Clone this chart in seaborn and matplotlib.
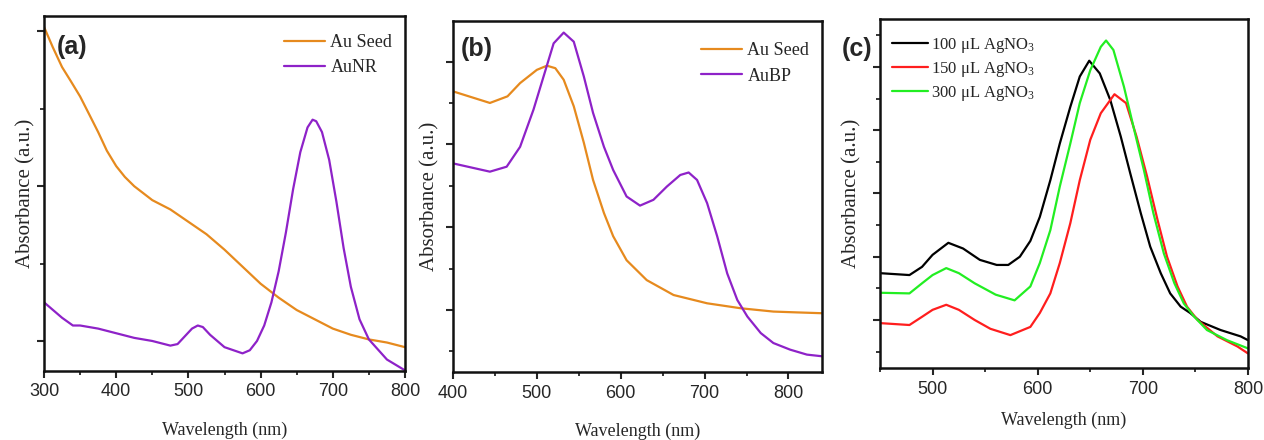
import numpy as np
import pandas as pd
import seaborn as sns
import matplotlib
matplotlib.use("Agg")
import matplotlib.pyplot as plt
from matplotlib.ticker import MultipleLocator

# ---------------- data (arbitrary absorbance units) ----------------
# Panel (a)
a_seed_wl = [300, 312, 325, 337, 350, 362, 375, 387, 400, 412, 425, 450, 475, 500, 525, 550, 575, 600, 625, 650, 675, 700, 725, 750, 775, 800]
a_seed_abs = [2.03, 1.90, 1.77, 1.68, 1.58, 1.47, 1.35, 1.23, 1.13, 1.06, 1.00, 0.91, 0.85, 0.77, 0.69, 0.59, 0.48, 0.37, 0.28, 0.20, 0.14, 0.08, 0.04, 0.01, -0.01, -0.04]
a_nr_wl = [300, 325, 340, 350, 375, 400, 425, 450, 475, 485, 495, 505, 513, 520, 530, 550, 575, 585, 595, 605, 615, 625, 635, 645, 655, 665, 672, 677, 685, 695, 705, 715, 725, 737, 750, 775, 800]
a_nr_abs = [0.25, 0.15, 0.10, 0.10, 0.08, 0.05, 0.02, 0.00, -0.03, -0.02, 0.03, 0.08, 0.10, 0.09, 0.04, -0.04, -0.08, -0.06, 0.00, 0.10, 0.25, 0.45, 0.70, 0.98, 1.22, 1.38, 1.43, 1.42, 1.35, 1.17, 0.90, 0.60, 0.35, 0.14, 0.01, -0.12, -0.19]

# Panel (b)
b_seed_wl = [400, 444, 465, 480, 500, 512, 522, 532, 544, 556, 567, 580, 591, 607, 631, 663, 703, 743, 782, 810, 840]
b_seed_abs = [2.64, 2.50, 2.58, 2.74, 2.90, 2.95, 2.92, 2.78, 2.46, 2.02, 1.57, 1.17, 0.89, 0.60, 0.36, 0.18, 0.08, 0.02, -0.02, -0.03, -0.04]
b_bp_wl = [400, 444, 464, 480, 496, 508, 520, 532, 544, 556, 567, 580, 591, 607, 623, 639, 655, 671, 681, 691, 703, 715, 727, 739, 751, 767, 782, 802, 822, 840]
b_bp_abs = [1.77, 1.67, 1.73, 1.97, 2.42, 2.82, 3.22, 3.35, 3.24, 2.82, 2.38, 1.97, 1.69, 1.37, 1.26, 1.33, 1.49, 1.63, 1.66, 1.57, 1.29, 0.89, 0.44, 0.12, -0.08, -0.28, -0.40, -0.48, -0.54, -0.56]

# Panel (c)
c100_wl = [450, 478, 490, 500, 515, 529, 545, 561, 572, 583, 593, 602, 612, 621, 631, 640, 649, 659, 669, 679, 688, 698, 707, 717, 726, 736, 745, 755, 774, 793, 800]
c100_abs = [0.74, 0.71, 0.84, 1.03, 1.22, 1.13, 0.95, 0.87, 0.87, 1.00, 1.25, 1.63, 2.21, 2.79, 3.37, 3.85, 4.10, 3.90, 3.48, 2.90, 2.32, 1.69, 1.16, 0.74, 0.42, 0.21, 0.11, -0.03, -0.16, -0.26, -0.32]
c150_wl = [450, 478, 490, 500, 513, 525, 540, 555, 574, 593, 602, 612, 621, 631, 640, 650, 660, 673, 684, 694, 704, 714, 723, 733, 742, 752, 771, 790, 800]
c150_abs = [-0.05, -0.08, 0.05, 0.16, 0.24, 0.16, 0.00, -0.14, -0.24, -0.11, 0.11, 0.42, 0.90, 1.53, 2.21, 2.85, 3.27, 3.57, 3.43, 2.90, 2.27, 1.58, 1.00, 0.53, 0.21, 0.00, -0.26, -0.42, -0.53]
c300_wl = [450, 478, 490, 500, 513, 525, 540, 560, 578, 593, 602, 612, 621, 631, 640, 650, 660, 665, 672, 682, 691, 701, 710, 720, 730, 739, 749, 761, 780, 800]
c300_abs = [0.43, 0.42, 0.58, 0.71, 0.82, 0.74, 0.58, 0.40, 0.31, 0.53, 0.90, 1.42, 2.11, 2.79, 3.43, 3.95, 4.32, 4.42, 4.27, 3.69, 3.06, 2.37, 1.69, 1.05, 0.58, 0.26, 0.05, -0.16, -0.32, -0.45]

labels_a = ["Au Seed", "AuNR"]
labels_b = ["Au Seed", "AuBP"]
labels_c = [r"100 $\mu$L AgNO$_3$", r"150 $\mu$L AgNO$_3$", r"300 $\mu$L AgNO$_3$"]

ORANGE = "#E68A1E"
PURPLE = "#8E22C8"

# ---------------- style ----------------
sns.set_style("ticks")
plt.rcParams["font.family"] = ["Liberation Sans", "DejaVu Sans"]
plt.rcParams["mathtext.fontset"] = "custom"
plt.rcParams["mathtext.rm"] = "Liberation Serif"
plt.rcParams["mathtext.it"] = "Liberation Serif:italic"
plt.rcParams["mathtext.default"] = "rm"

W, H = 1264, 440
fig = plt.figure(figsize=(W / 100, H / 100), dpi=100)


def ax_px(l, t, r, b):
    return fig.add_axes([l / W, 1 - b / H, (r - l) / W, (b - t) / H])


def frame(ax, xlim, ylim, xmaj, ymaj, ypad, xpad):
    ax.set_xlim(*xlim)
    ax.set_ylim(*ylim)
    ax.xaxis.set_major_locator(MultipleLocator(xmaj))
    ax.xaxis.set_minor_locator(MultipleLocator(xmaj / 2))
    ax.yaxis.set_major_locator(MultipleLocator(ymaj))
    ax.yaxis.set_minor_locator(MultipleLocator(ymaj / 2))
    ax.tick_params(which="major", direction="out", length=5, width=1.5, labelsize=13, pad=4)
    ax.tick_params(which="minor", direction="out", length=3, width=1.3)
    ax.tick_params(axis="y", which="both", labelleft=False)
    for s in ax.spines.values():
        s.set_linewidth(1.8)
        s.set_color("#111111")
    ax.set_xlabel("Wavelength (nm)", family="Liberation Serif", fontsize=13, labelpad=xpad)
    ax.set_ylabel("Absorbance (a.u.)", family="Liberation Serif", fontsize=15, labelpad=ypad)


def draw(ax, wl, ab, color, label):
    df = pd.DataFrame({"wl": wl, "abs": ab})
    sns.lineplot(data=df, x="wl", y="abs", ax=ax, color=color, lw=1.6, label=label, sort=False)


# Panel (a)
ax1 = ax_px(44, 16, 405, 371)
draw(ax1, a_seed_wl, a_seed_abs, ORANGE, labels_a[0])
draw(ax1, a_nr_wl, a_nr_abs, PURPLE, labels_a[1])
frame(ax1, (300, 800), (-0.194, 2.10), 100, 1, ypad=1, xpad=15)
ax1.legend(loc="upper right", bbox_to_anchor=(1.0, 0.985), frameon=False,
           prop={"family": "Liberation Serif", "size": 13}, handlelength=2.3,
           handletextpad=0.3, labelspacing=0.45, borderaxespad=0.3)

# Panel (b)
ax2 = ax_px(453, 21, 822, 372)
draw(ax2, b_seed_wl, b_seed_abs, ORANGE, labels_b[0])
draw(ax2, b_bp_wl, b_bp_abs, PURPLE, labels_b[1])
frame(ax2, (400, 840), (-0.75, 3.49), 100, 1, ypad=5, xpad=15)
ax2.legend(loc="upper right", bbox_to_anchor=(1.0, 0.975), frameon=False,
           prop={"family": "Liberation Serif", "size": 13}, handlelength=2.3,
           handletextpad=0.3, labelspacing=0.45, borderaxespad=0.3)

# Panel (c)
ax3 = ax_px(880, 19, 1248, 368)
draw(ax3, c100_wl, c100_abs, "black", labels_c[0])
draw(ax3, c150_wl, c150_abs, "#FF1E1E", labels_c[1])
draw(ax3, c300_wl, c300_abs, "#22EE22", labels_c[2])
frame(ax3, (450, 800), (-0.76, 4.76), 100, 1, ypad=8, xpad=10)
ax3.set_xticks([500, 600, 700, 800])
ax3.xaxis.set_minor_locator(MultipleLocator(50))
ax3.legend(loc="upper left", bbox_to_anchor=(0.0, 0.985), frameon=False,
           prop={"family": "Liberation Serif", "size": 12}, handlelength=2.2,
           handletextpad=0.15, labelspacing=0.3, borderaxespad=0.3)

# panel letters
for x, y, t in [(57, 47, "(a)"), (461, 49, "(b)"), (842, 49, "(c)")]:
    fig.text(x / W, 1 - y / H, t, fontsize=18, fontweight="bold", va="center", ha="left",
             family=["Liberation Sans", "DejaVu Sans"])

fig.savefig("out.png", dpi=100)
